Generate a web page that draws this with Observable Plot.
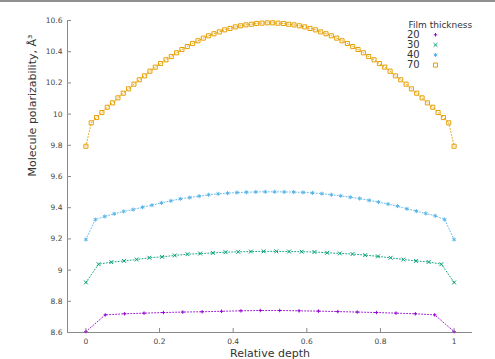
<!DOCTYPE html>
<html><head><meta charset="utf-8">
<script src="https://cdn.jsdelivr.net/npm/d3@7"></script>
<script src="https://cdn.jsdelivr.net/npm/@observablehq/plot@0.6"></script>
<style>
html,body{margin:0;padding:0;background:#fff;}
#chart{width:495px;height:357px;border-top:2px solid #8f8f8f;}
#chart svg{display:block;}
</style></head><body><div id="chart"></div>
<script>
const thicknesses = ["20", "30", "40", "70"];
const seriesColors = ["#9400d3", "#009e73", "#56b4e9", "#e69f00"];
const seriesSymbols = ["plus", "times", "asterisk", "square"];

const values20 = [8.606, 8.713, 8.720, 8.724, 8.728, 8.731, 8.733, 8.736, 8.739, 8.741,
  8.741, 8.739, 8.737, 8.734, 8.731, 8.728, 8.724, 8.720, 8.713, 8.606];
const values30 = [8.921, 9.038, 9.051, 9.059, 9.068, 9.079, 9.085, 9.094, 9.102, 9.106,
  9.110, 9.115, 9.117, 9.119, 9.120, 9.120, 9.119, 9.118, 9.116, 9.111,
  9.107, 9.103, 9.096, 9.088, 9.079, 9.068, 9.059, 9.052, 9.038, 8.921];
const values40 = [9.196, 9.324, 9.344, 9.361, 9.376, 9.388, 9.403, 9.416, 9.431, 9.444,
  9.457, 9.465, 9.474, 9.483, 9.489, 9.493, 9.497, 9.499, 9.501, 9.502,
  9.502, 9.501, 9.500, 9.498, 9.495, 9.490, 9.483, 9.476, 9.467, 9.459,
  9.447, 9.436, 9.423, 9.410, 9.393, 9.378, 9.363, 9.348, 9.324, 9.196];
const values70 = [9.794, 9.944, 9.978, 10.010, 10.044, 10.072, 10.104, 10.134, 10.162, 10.192,
  10.220, 10.245, 10.275, 10.301, 10.324, 10.348, 10.369, 10.393, 10.414, 10.433,
  10.453, 10.470, 10.487, 10.502, 10.515, 10.527, 10.540, 10.549, 10.559, 10.566,
  10.572, 10.576, 10.581, 10.583, 10.585, 10.585, 10.583, 10.581, 10.576, 10.572,
  10.566, 10.559, 10.549, 10.540, 10.527, 10.515, 10.502, 10.487, 10.470, 10.453,
  10.433, 10.414, 10.393, 10.369, 10.348, 10.324, 10.301, 10.275, 10.245, 10.220,
  10.192, 10.162, 10.134, 10.104, 10.072, 10.044, 10.010, 9.978, 9.944, 9.794];

const xTicks = [0, 0.2, 0.4, 0.6, 0.8, 1];
const xTickLabels = ["0", "0.2", "0.4", "0.6", "0.8", "1"];
const yTicks = [8.6, 8.8, 9, 9.2, 9.4, 9.6, 9.8, 10, 10.2, 10.4, 10.6];
const yTickLabels = ["8.6", "8.8", "9", "9.2", "9.4", "9.6", "9.8", "10", "10.2", "10.4", "10.6"];
const xDomain = [-0.05, 1.05];
const yDomain = [8.6, 10.6];
const xLabel = "Relative depth";
const yLabel = "Molecule polarizability, Å³";
const legendTitle = "Film thickness";

const allValues = [values20, values30, values40, values70];
const series = allValues.map((vals, k) =>
  vals.map((v, i) => ({depth: i / (vals.length - 1), value: v, thickness: thicknesses[k]})));

const dotR = [1.2, 1.9, 1.9, 2.3];
const marks = [];

// axis lines (left and bottom)
marks.push(Plot.ruleX([xDomain[0]], {stroke: "#8a8a8a", strokeWidth: 1}));
marks.push(Plot.ruleY([yDomain[0]], {stroke: "#8a8a8a", strokeWidth: 1}));

series.forEach((data, k) => {
  marks.push(Plot.line(data, {x: "depth", y: "value", stroke: seriesColors[k], strokeWidth: 1, strokeDasharray: "1,2", strokeOpacity: 0.9}));
  marks.push(Plot.dot(data, {x: "depth", y: "value", symbol: () => seriesSymbols[k], r: dotR[k], stroke: seriesColors[k], fill: "none", strokeWidth: 1}));
});

// Legend
marks.push(Plot.text([legendTitle], {text: d => d, frameAnchor: "top-right", dx: -64, dy: 4.5, textAnchor: "start", lineAnchor: "middle", fontSize: 9, fill: "#333"}));
thicknesses.forEach((t, k) => {
  marks.push(Plot.text([t], {text: d => d, frameAnchor: "top-right", dx: -65.5, dy: 14.3 + k * 10.1, textAnchor: "start", lineAnchor: "middle", fontSize: 10, fill: "#333"}));
  marks.push(Plot.dot([t], {frameAnchor: "top-right", dx: -37, dy: 14.3 + k * 10.1, symbol: () => seriesSymbols[k], r: dotR[k], stroke: seriesColors[k], fill: "none", strokeWidth: 1}));
});

// Axis titles
marks.push(Plot.text([xLabel], {text: d => d, frameAnchor: "bottom", dy: 21, lineAnchor: "middle", fontSize: 11, fill: "#333"}));
marks.push(Plot.text([yLabel], {text: d => d, frameAnchor: "left", dx: -35, rotate: -90, lineAnchor: "middle", fontSize: 11, fill: "#333"}));

marks.push(Plot.axisX({ticks: xTicks, tickFormat: d => xTickLabels[xTicks.indexOf(d)], tickSize: -4, tickPadding: 10, stroke: "#8a8a8a", fill: "#444", fontSize: 7.5, label: null}));
marks.push(Plot.axisY({ticks: yTicks, tickFormat: d => yTickLabels[yTicks.indexOf(d)], tickSize: -4, tickPadding: 9, stroke: "#8a8a8a", fill: "#444", fontSize: 7.5, label: null}));

const chart = Plot.plot({
  width: 495,
  height: 357,
  marginLeft: 67,
  marginRight: 23,
  marginTop: 18,
  marginBottom: 27,
  x: {domain: xDomain},
  y: {domain: yDomain},
  style: {fontFamily: "'DejaVu Sans', sans-serif", background: "#fff", color: "#333"},
  marks
});
document.getElementById("chart").appendChild(chart);
</script>
</body></html>
